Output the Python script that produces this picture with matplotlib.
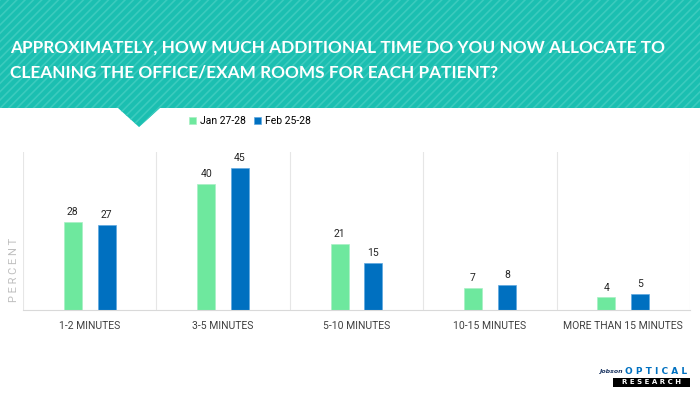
import matplotlib.pyplot as plt
import matplotlib.patches as mpatches
import numpy as np

# Data
categories = ['1-2 MINUTES', '3-5 MINUTES', '5-10 MINUTES', '10-15 MINUTES', 'MORE THAN 15 MINUTES']
series_names = ['Jan 27-28', 'Feb 25-28']
jan_values = [28, 40, 21, 7, 4]
feb_values = [27, 45, 15, 8, 5]

TITLE = 'APPROXIMATELY, HOW MUCH ADDITIONAL TIME DO YOU NOW ALLOCATE TO\nCLEANING THE OFFICE/EXAM ROOMS FOR EACH PATIENT?'
GREEN = '#6EE89E'
BLUE = '#0070C0'
TEAL = '#1BBFB1'
FONT = ['Roboto', 'DejaVu Sans']

plt.rcParams['hatch.linewidth'] = 1.2
plt.rcParams['hatch.color'] = '#3CCBBE'

fig = plt.figure(figsize=(7, 3.94), dpi=100)
W, H = 700, 394

# Header band with diagonal stripes and a small notch
band = fig.add_axes([0, 0, 1, 1], zorder=0)
band.set_xlim(0, W)
band.set_ylim(H, 0)
band.axis('off')
band.add_patch(mpatches.Polygon([[0, 0], [W, 0], [W, 108], [160, 108], [139, 127], [118, 108], [0, 108]],
                                closed=True, facecolor=TEAL, edgecolor='#3CCBBE', hatch='////', lw=0))
band.text(10, 60, TITLE, color='white', fontsize=12.4, fontweight='bold', family='Lato',
          va='center', ha='left', linespacing=1.7)

# Logo
band.text(623, 372, 'Jobson', fontsize=4.5, style='italic', fontweight='bold', color='#1F3864', ha='right', va='center')
band.text(656, 372, 'O P T I C A L', fontsize=6.5, fontweight='bold', color='#0070C0', ha='center', va='center')
band.add_patch(mpatches.Rectangle((613, 378), 77, 9, facecolor='black', lw=0))
band.text(651.5, 382.5, 'R E S E A R C H', fontsize=5, fontweight='bold', color='white', ha='center', va='center')

# Chart
ax = fig.add_axes([23 / W, 1 - 310 / H, 667 / W, 158 / H], zorder=1)
ax.patch.set_alpha(0)
x = np.arange(len(categories))
off = 0.127
bw = 0.135
b1 = ax.bar(x - off, jan_values, bw, color=GREEN, edgecolor='#A8F0C4', lw=0.5, label=series_names[0])
b2 = ax.bar(x + off, feb_values, bw, color=BLUE, edgecolor='#5FA8E0', lw=0.5, label=series_names[1])
for bars, vals in [(b1, jan_values), (b2, feb_values)]:
    for bar, v in zip(bars, vals):
        ax.text(bar.get_x() + bar.get_width() / 2, v + 1.5, str(v), ha='center', va='bottom',
                fontsize=7.5, color='#262626', family=FONT)

ax.set_xlim(-0.5, len(categories) - 0.5)
ax.set_ylim(0, 50)
ax.set_yticks([])
ax.set_xticks(x)
ax.set_xticklabels(categories, fontsize=7.5, color='#404040', family=FONT)
ax.tick_params(axis='x', length=0, pad=8)
ax.set_xticks(np.arange(-0.5, len(categories)), minor=True)
ax.tick_params(axis='x', which='minor', length=0)
ax.grid(axis='x', which='minor', color='#E6E6E6', lw=0.8)
for s in ['top', 'right', 'left']:
    ax.spines[s].set_visible(False)
ax.spines['bottom'].set_color('#D9D9D9')

fig.text(14 / W, 1 - 270 / H, 'P E R C E N T', rotation=90, fontsize=8, color='#BFBFBF',
         ha='center', va='center', family=FONT)

fig.legend(handles=[b1, b2], labels=series_names, loc='center', bbox_to_anchor=(250 / W, 1 - 121 / H),
           ncol=2, frameon=False, handlelength=0.7, handleheight=0.7,
           handletextpad=0.4, columnspacing=0.7, prop={'family': FONT, 'size': 7.5})

fig.savefig('out.png', dpi=100)
